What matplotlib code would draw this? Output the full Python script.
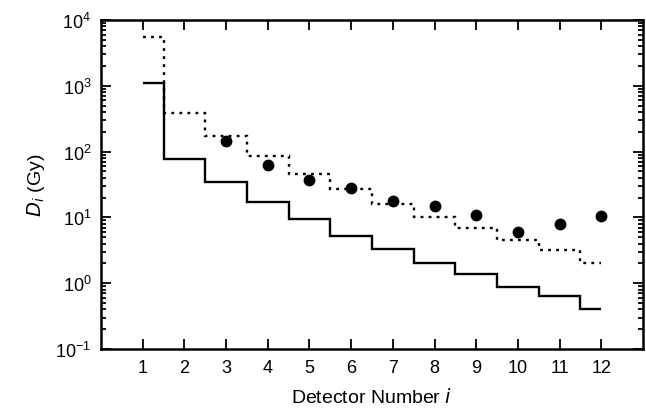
import numpy as np
import matplotlib
matplotlib.use("Agg")
import matplotlib.pyplot as plt
from matplotlib.ticker import LogLocator, NullFormatter, FixedLocator

# Detector numbers and step-function doses (Gy)
detectors = np.arange(1, 13)
dose_solid = [1100, 78, 35, 17, 9.5, 5.2, 3.3, 2.0, 1.38, 0.89, 0.65, 0.41]
dose_dotted = [5500, 385, 173, 85, 46, 27, 16, 10.3, 6.9, 4.6, 3.2, 2.0]

# Measured points
meas_det = [3, 4, 5, 6, 7, 8, 9, 10, 11, 12]
meas_dose = [145, 63, 37, 28, 18, 14.7, 11, 5.9, 8.0, 10.5]

plt.rcParams["font.family"] = ["Liberation Sans", "DejaVu Sans"]

fig = plt.figure(figsize=(6.46, 4.10), dpi=100)
ax = fig.add_axes([101 / 646, 1 - 350 / 410, 542 / 646, 329 / 410])

# bin edges: first detector starts at its own position, others centred
edges = np.concatenate(([detectors[0]], detectors[:-1] + 0.5, [detectors[-1]]))

ax.stairs(dose_solid, edges, color="black", linewidth=1.7, baseline=None)
ax.stairs(dose_dotted, edges, color="black", linewidth=1.7, baseline=None,
          linestyle=(0, (1.2, 2.2)))
ax.plot(meas_det, meas_dose, "o", color="black", markersize=7.5)

ax.set_yscale("log")
ax.set_ylim(0.1, 1e4)
ax.set_xlim(0, 13)
ax.xaxis.set_major_locator(FixedLocator(detectors))
ax.yaxis.set_major_locator(LogLocator(base=10, numticks=10))
ax.yaxis.set_minor_locator(LogLocator(base=10, subs=np.arange(2, 10), numticks=20))
ax.yaxis.set_minor_formatter(NullFormatter())

ax.tick_params(which="both", direction="in", top=True, right=True,
               labelsize=13, width=1.3)
ax.tick_params(which="major", length=7, pad=7)
ax.tick_params(which="minor", length=3.5)
for s in ax.spines.values():
    s.set_linewidth(1.8)

ax.set_xlabel(r"Detector Number $\mathit{i}$", fontsize=14, labelpad=8)
ax.set_ylabel(r"$\mathit{D_i}$ (Gy)", fontsize=14, labelpad=6)

fig.savefig("out.png", dpi=100, facecolor="white")
